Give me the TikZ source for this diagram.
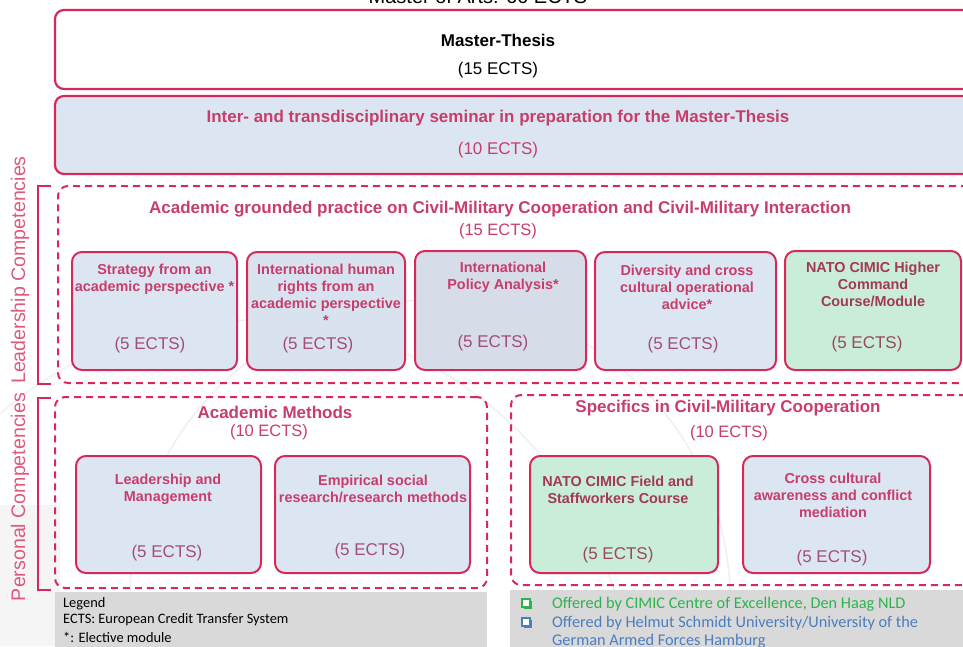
\documentclass[tikz,border=0pt]{standalone}
\usepackage{fontspec}
\setmainfont{Liberation Sans}
\newfontfamily\calibri{Carlito}
\usetikzlibrary{shadows}
\definecolor{bordercol}{HTML}{D6295A}
\definecolor{textcol}{HTML}{C73D6B}
\definecolor{ectscol}{HTML}{A34C7E}
\definecolor{greentext}{HTML}{A23A50}
\definecolor{greenects}{HTML}{9A4A5A}
\definecolor{bluefill}{HTML}{DCE6F2}
\definecolor{bluefilltwo}{HTML}{D6DDE8}
\definecolor{greenfill}{HTML}{C9EDD9}
\definecolor{legendgray}{HTML}{D9D9D9}
\definecolor{labelcol}{HTML}{DE5A7C}
\definecolor{offgreen}{HTML}{2DB34E}
\definecolor{offblue}{HTML}{4A7EC0}
\tikzset{
  solidbox/.style={draw=bordercol, line width=2.2pt, rounded corners=9pt, inner sep=0pt},
  dashbox/.style={draw=bordercol, line width=2pt, dash pattern=on 7pt off 5pt, rounded corners=10pt, inner sep=0pt},
  modbox/.style={draw=bordercol, line width=2pt, rounded corners=10pt, fill=bluefill, inner sep=0pt},
  modtext/.style={text=textcol, font=\bfseries\fontsize{14.4}{17}\selectfont, align=center, inner sep=0pt},
  greentxt/.style={modtext, text=greentext},
  ectstext/.style={text=ectscol, font=\fontsize{17}{20}\selectfont, inner sep=0pt},
  sectitle/.style={text=textcol, font=\bfseries\fontsize{17}{20}\selectfont, inner sep=0pt},
  secects/.style={text=textcol, font=\fontsize{16.5}{19}\selectfont, inner sep=0pt},
  bracket/.style={draw=bordercol, line width=2pt},
  sidelabel/.style={text=labelcol, rotate=90, font=\fontsize{19.6}{22}\selectfont, inner sep=0pt},
  legtext/.style={font=\calibri\fontsize{14.4}{16}\selectfont, anchor=west, inner sep=0pt},
  offtext/.style={font=\calibri\fontsize{16.3}{18}\selectfont, anchor=west, inner sep=0pt},
  sq/.style={draw=#1, line width=1.3pt, fill=white, minimum size=8pt, inner sep=0pt,
    drop shadow={shadow xshift=1.6pt, shadow yshift=-1.6pt, fill=#1, opacity=1}},
  wm/.style={draw=gray!12, line width=1.6pt}
}
\begin{document}
\begin{tikzpicture}[x=1pt,y=-1pt]
\useasboundingbox (0,0) rectangle (963,646);
\clip (0,0) rectangle (963,646);
% watermark
\fill[gray!8] (0,505) rectangle (60,646);
\draw[wm] (430,600) circle (300);
\draw[wm] (250,700) circle (380);
% title (cut off at the top edge, as in the reference)
\node[font=\fontsize{20}{24}\selectfont, inner sep=0pt] (title) at (478,-4) {Master of Arts: 60 ECTS};
% Master thesis
\node[solidbox, fill=white, minimum width=925pt, minimum height=79pt] (thesis) at (517.5,49.5) {};
\node[font=\bfseries\fontsize{17}{20}\selectfont, inner sep=0pt] (thesisT) at (498,40) {Master-Thesis};
\node[font=\fontsize{17}{20}\selectfont, inner sep=0pt] (thesisE) at (498,70) {(15 ECTS)};
% seminar
\node[solidbox, fill=bluefill, minimum width=925pt, minimum height=78pt] (sem) at (517.5,135) {};
\node[text=textcol, font=\bfseries\fontsize{17}{20}\selectfont, inner sep=0pt] (semT) at (498,118) {Inter- and transdisciplinary seminar in preparation for the Master-Thesis};
\node[text=textcol, font=\fontsize{17}{20}\selectfont, inner sep=0pt] (semE) at (498,150) {(10 ECTS)};
% side labels and brackets
\draw[bracket] (51,186) -- (38,186) -- (38,384) -- (51,384);
\draw[bracket] (51,398) -- (38,398) -- (38,590) -- (51,590);
\node[sidelabel] (lead) at (20,270) {Leadership Competencies};
\node[sidelabel] (pers) at (20,497) {Personal Competencies};
% leadership group
\node[dashbox, minimum width=920pt, minimum height=197pt] (grpA) at (518,284.5) {};
\node[sectitle] (grpAT) at (500,209) {Academic grounded practice on Civil-Military Cooperation and Civil-Military Interaction};
\node[secects] (grpAE) at (498,231) {(15 ECTS)};
% modules row
\node[modbox, minimum width=165pt, minimum height=118pt] (m1) at (154.5,311) {};
\node[modtext] (m1T) at (154.5,279.5) {Strategy from an\\academic perspective *};
\node[ectstext] (m1E) at (150,345) {(5 ECTS)};
\node[modbox, fill=bluefill!97!gray, minimum width=158pt, minimum height=118pt] (m2) at (326,311) {};
\node[modtext] (m2T) at (326,295) {International human\\rights from an\\academic perspective\\*};
\node[ectstext] (m2E) at (318,345) {(5 ECTS)};
\node[modbox, fill=bluefilltwo, minimum width=171pt, minimum height=119pt] (m3) at (500.5,310.5) {};
\node[modtext] (m3T) at (503,277.5) {International\\Policy Analysis*};
\node[ectstext] (m3E) at (493,343) {(5 ECTS)};
\node[modbox, minimum width=181pt, minimum height=118pt] (m4) at (685.5,311) {};
\node[modtext] (m4T) at (687,287) {Diversity and cross\\cultural operational\\advice*};
\node[ectstext] (m4E) at (683,345) {(5 ECTS)};
\node[modbox, fill=greenfill, minimum width=176pt, minimum height=119pt] (m5) at (873,310.5) {};
\node[greentxt] (m5T) at (873,284) {NATO CIMIC Higher\\Command\\Course/Module};
\node[ectstext, text=greenects] (m5E) at (867,344) {(5 ECTS)};
% academic methods group
\node[dashbox, minimum width=432pt, minimum height=191pt] (grpB) at (271,492.5) {};
\node[sectitle] (grpBT) at (275,412) {Academic Methods};
\node[secects] (grpBE) at (269,432) {(10 ECTS)};
\node[modbox, minimum width=185pt, minimum height=117pt] (b1) at (168.5,514.5) {};
\node[modtext] (b1T) at (168,489.5) {Leadership and\\Management};
\node[ectstext] (b1E) at (167,553) {(5 ECTS)};
\node[modbox, minimum width=195pt, minimum height=117pt] (b2) at (372.5,514.5) {};
\node[modtext] (b2T) at (373,488.5) {Empirical social\\research/research methods};
\node[ectstext] (b2E) at (370,551) {(5 ECTS)};
% specifics group
\node[dashbox, minimum width=465pt, minimum height=190pt] (grpC) at (743.5,490) {};
\node[sectitle] (grpCT) at (728,408) {Specifics in Civil-Military Cooperation};
\node[secects] (grpCE) at (729,433) {(10 ECTS)};
\node[modbox, fill=greenfill, minimum width=188pt, minimum height=117pt] (c1) at (624,514.5) {};
\node[greentxt] (c1T) at (618,489.5) {NATO CIMIC Field and\\Staffworkers Course};
\node[ectstext, text=greenects] (c1E) at (618,555) {(5 ECTS)};
\node[modbox, minimum width=187pt, minimum height=117pt] (c2) at (836.5,514.5) {};
\node[modtext] (c2T) at (833,495.5) {Cross cultural\\awareness and conflict\\mediation};
\node[ectstext] (c2E) at (832,558) {(5 ECTS)};
% legend
\node[fill=legendgray, minimum width=432pt, minimum height=60pt, inner sep=0pt] (legA) at (271,622) {};
\node[legtext] (legA1) at (63,604) {Legend};
\node[legtext] (legA2) at (63,620) {ECTS: European Credit Transfer System};
\node[legtext] (legA3) at (63,637) {*: Elective module};
\node[fill=legendgray, minimum width=460pt, minimum height=62pt, inner sep=0pt] (legB) at (740,621) {};
\node[sq=offgreen] (sqg) at (526,603) {};
\node[sq=offblue] (sqb) at (526,622) {};
\node[offtext, text=offgreen] (legB1) at (552,604) {Offered by CIMIC Centre of Excellence, Den Haag NLD};
\node[offtext, text=offblue] (legB2) at (552,623) {Offered by Helmut Schmidt University/University of the};
\node[offtext, text=offblue] (legB3) at (552,641.5) {German Armed Forces Hamburg};
\end{tikzpicture}
\end{document}
